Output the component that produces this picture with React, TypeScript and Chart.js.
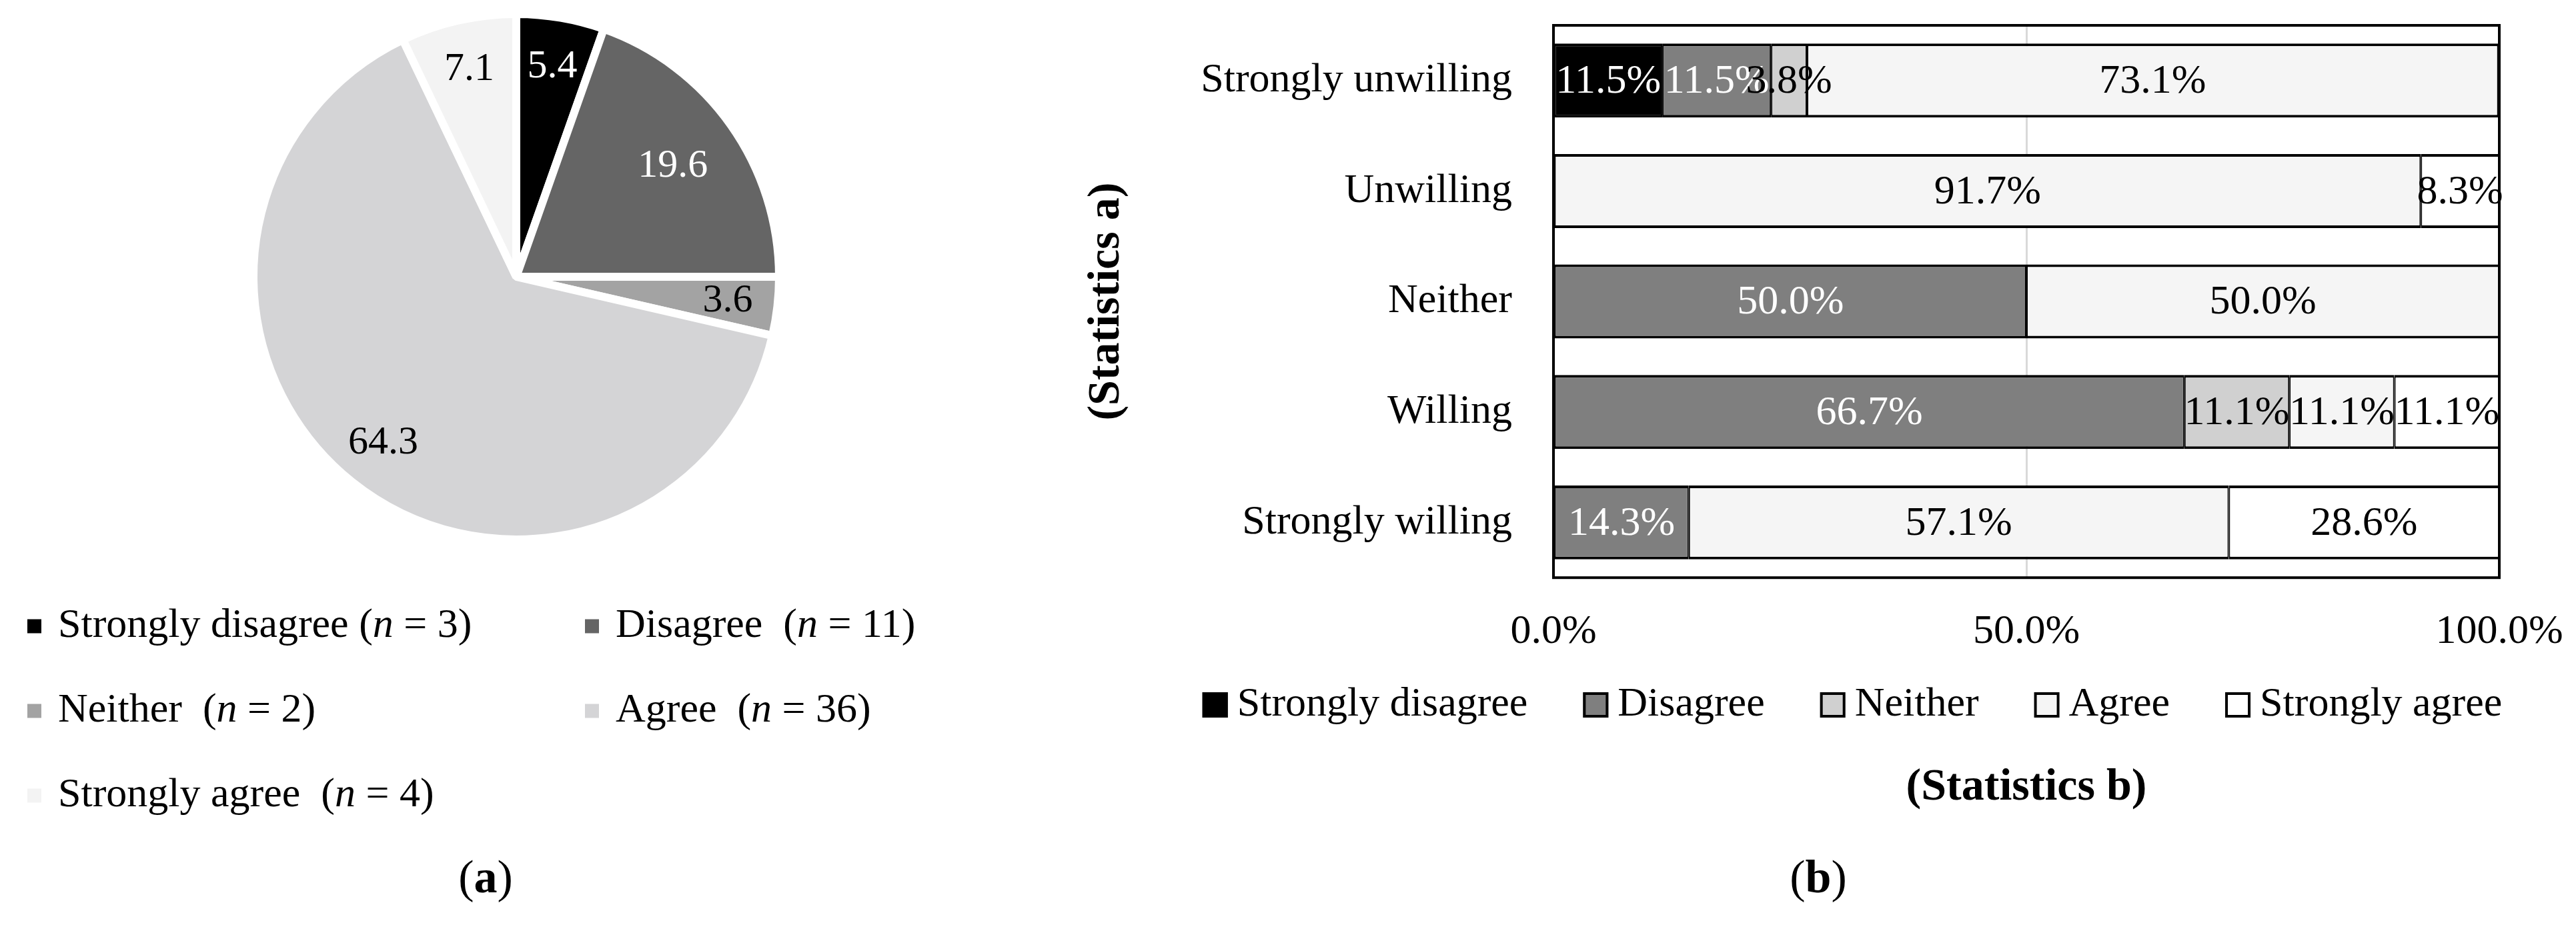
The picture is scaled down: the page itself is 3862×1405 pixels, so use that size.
import React, { useEffect, useRef } from "react";
import { Chart, registerables } from "chart.js";

Chart.register(...registerables);

// ---------- Data: pie (a) ----------
const pieLabels = ["Strongly disagree", "Disagree", "Neither", "Agree", "Strongly agree"];
const pieCounts = [3, 11, 2, 36, 4];
const piePercents = [5.4, 19.6, 3.6, 64.3, 7.1];

// ---------- Data: stacked bars (b) ----------
const barCategories = ["Strongly unwilling", "Unwilling", "Neither", "Willing", "Strongly willing"];
const barSeriesNames = ["Strongly disagree", "Disagree", "Neither", "Agree", "Strongly agree"];
const stronglyDisagree = [11.5, 0, 0, 0, 0];
const disagree = [11.5, 0, 50.0, 66.7, 14.3];
const neither = [3.8, 0, 0, 11.1, 0];
const agree = [73.1, 91.7, 50.0, 11.1, 57.1];
const stronglyAgree = [0, 8.3, 0, 11.1, 28.6];
const xTickValues = [0, 50, 100];

// ---------- Styles ----------
const FONT = '"Liberation Serif", "Times New Roman", serif';
const TXT = 62;
const pieColors = ["#000000", "#656565", "#a3a3a3", "#d4d4d6", "#f3f3f3"];
const pieLabelColors = ["#ffffff", "#ffffff", "#000000", "#000000", "#000000"];
const pieLabelRadius = [0.81, 0.73, 0.81, 0.81, 0.81];
const pieLegendSpacer = [" ", "  ", "  ", "  ", "  "];
const barColors = ["#000000", "#7f7f7f", "#d0d0d0", "#f5f5f5", "#ffffff"];
const barLabelColors = ["#ffffff", "#ffffff", "#000000", "#000000", "#000000"];

function font(size: number, weight = "normal", style = "normal") {
  return `${style} ${weight} ${size}px ${FONT}`;
}

function drawRuns(ctx: CanvasRenderingContext2D, runs: { t: string; f: string }[], x: number, y: number, align: "left" | "center") {
  let total = 0;
  const widths = runs.map((r) => {
    ctx.font = r.f;
    const w = ctx.measureText(r.t).width;
    total += w;
    return w;
  });
  let cx = align === "center" ? x - total / 2 : x;
  runs.forEach((r, i) => {
    ctx.font = r.f;
    ctx.fillText(r.t, cx, y);
    cx += widths[i];
  });
}

const pieLabelPlugin = {
  id: "pieLabels",
  afterDatasetsDraw(chart: any) {
    const { ctx } = chart;
    const meta = chart.getDatasetMeta(0);
    ctx.save();
    ctx.textAlign = "center";
    ctx.textBaseline = "middle";
    ctx.font = font(60);
    meta.data.forEach((arc: any, i: number) => {
      const p = arc.getProps(["x", "y", "startAngle", "endAngle", "outerRadius"], true);
      const mid = (p.startAngle + p.endAngle) / 2;
      const r = p.outerRadius * pieLabelRadius[i];
      ctx.fillStyle = pieLabelColors[i];
      ctx.fillText(piePercents[i].toFixed(1), p.x + Math.cos(mid) * r, p.y + Math.sin(mid) * r);
    });
    ctx.restore();
  },
};

const pieLegendPlugin = {
  id: "pieLegend",
  afterDraw(chart: any) {
    const { ctx } = chart;
    const cols = [41, 877];
    const rows = [939, 1066, 1193];
    const box = 21;
    ctx.save();
    ctx.textBaseline = "middle";
    ctx.fillStyle = "#000";
    pieLabels.forEach((lab, i) => {
      const x = cols[i % 2];
      const y = rows[Math.floor(i / 2)];
      ctx.fillStyle = pieColors[i];
      ctx.fillRect(x, y - box / 2, box, box);
      ctx.fillStyle = "#000";
      drawRuns(
        ctx,
        [
          { t: `${lab}${pieLegendSpacer[i]}(`, f: font(TXT) },
          { t: "n", f: font(TXT, "normal", "italic") },
          { t: ` = ${pieCounts[i]})`, f: font(TXT) },
        ],
        x + 46,
        y,
        "left"
      );
    });
    // caption (a)
    drawRuns(
      ctx,
      [
        { t: "(", f: font(70) },
        { t: "a", f: font(70, "bold") },
        { t: ")", f: font(70) },
      ],
      728,
      1320,
      "center"
    );
    ctx.restore();
  },
};

const barLabelPlugin = {
  id: "barLabels",
  afterDatasetsDraw(chart: any) {
    const { ctx } = chart;
    ctx.save();
    ctx.textAlign = "center";
    ctx.textBaseline = "middle";
    ctx.font = font(TXT);
    chart.data.datasets.forEach((ds: any, di: number) => {
      const meta = chart.getDatasetMeta(di);
      meta.data.forEach((el: any, i: number) => {
        const v = ds.data[i];
        if (v === null || v === undefined || v === 0) return;
        const c = el.getCenterPoint();
        ctx.fillStyle = barLabelColors[di];
        ctx.fillText(`${Number(v).toFixed(1)}%`, c.x, c.y + 2);
      });
    });
    ctx.restore();
  },
};

const framePlugin = {
  id: "frame",
  afterDatasetsDraw(chart: any) {
    const { ctx, chartArea } = chart;
    ctx.save();
    ctx.strokeStyle = "#000";
    ctx.lineWidth = 4;
    ctx.strokeRect(chartArea.left, chartArea.top, chartArea.right - chartArea.left, chartArea.bottom - chartArea.top);
    ctx.restore();
  },
};

const barLegendPlugin = {
  id: "barLegend",
  afterDraw(chart: any) {
    const { ctx } = chart;
    const centerX = 1277;
    const y = 1057;
    const box = 38;
    const boxGap = 14;
    const itemGap = 83;
    ctx.save();
    ctx.font = font(TXT);
    ctx.textBaseline = "middle";
    const widths = barSeriesNames.map((n) => ctx.measureText(n).width);
    const total = widths.reduce((a, w) => a + box + boxGap + w, 0) + itemGap * (barSeriesNames.length - 1);
    let x = centerX - total / 2;
    barSeriesNames.forEach((n, i) => {
      ctx.fillStyle = barColors[i];
      ctx.fillRect(x, y - box / 2, box, box);
      ctx.strokeStyle = "#000";
      ctx.lineWidth = 4;
      ctx.strokeRect(x + 2, y - box / 2 + 2, box - 4, box - 4);
      ctx.fillStyle = "#000";
      ctx.fillText(n, x + box + boxGap, y);
      x += box + boxGap + widths[i] + itemGap;
    });
    // caption (b)
    drawRuns(
      ctx,
      [
        { t: "(", f: font(70) },
        { t: "b", f: font(70, "bold") },
        { t: ")", f: font(70) },
      ],
      1226,
      1320,
      "center"
    );
    ctx.restore();
  },
};

export default function App() {
  const pieRef = useRef<HTMLCanvasElement>(null);
  const barRef = useRef<HTMLCanvasElement>(null);

  useEffect(() => {
    Chart.defaults.font.family = FONT;
    Chart.defaults.color = "#000";

    const pie = new Chart(pieRef.current as HTMLCanvasElement, {
      type: "pie",
      data: {
        labels: pieLabels,
        datasets: [
          {
            data: piePercents,
            backgroundColor: pieColors,
            borderColor: "#ffffff",
            borderWidth: 12,
            radius: 394,
          } as any,
        ],
      },
      options: {
        animation: false,
        responsive: true,
        maintainAspectRatio: false,
        events: [],
        layout: { padding: { left: 374, right: 326, top: 15, bottom: 590 } },
        plugins: { legend: { display: false }, tooltip: { enabled: false } },
      },
      plugins: [pieLabelPlugin, pieLegendPlugin],
    });

    const seriesData = [stronglyDisagree, disagree, neither, agree, stronglyAgree];
    const bar = new Chart(barRef.current as HTMLCanvasElement, {
      type: "bar",
      data: {
        labels: barCategories,
        datasets: barSeriesNames.map((name, i) => ({
          label: name,
          data: seriesData[i].map((v) => (v === 0 ? null : v)),
          backgroundColor: barColors[i],
          borderColor: "#000000",
          borderWidth: { top: 4, bottom: 4, left: 2, right: 2 },
          borderSkipped: false,
          barPercentage: 0.67,
          categoryPercentage: 1,
        })) as any,
      },
      options: {
        indexAxis: "y",
        animation: false,
        responsive: true,
        maintainAspectRatio: false,
        events: [],
        layout: { padding: { left: 118.4, right: 115, top: 38, bottom: 182.8 } },
        plugins: { legend: { display: false }, tooltip: { enabled: false } },
        scales: {
          x: {
            type: "linear",
            stacked: true,
            min: 0,
            max: 100,
            afterBuildTicks: (scale: any) => {
              scale.ticks = xTickValues.map((v) => ({ value: v }));
            },
            ticks: {
              padding: 44,
              color: "#000",
              font: { size: TXT },
              maxRotation: 0,
              callback: (v: any) => `${Number(v).toFixed(1)}%`,
            },
            grid: {
              drawTicks: false,
              lineWidth: 3,
              color: (c: any) => (c.tick && c.tick.value === 50 ? "#d9d9d9" : "rgba(0,0,0,0)"),
            },
            border: { display: false },
            title: {
              display: true,
              text: "(Statistics b)",
              color: "#000",
              font: { size: 68, weight: "bold" },
              padding: { top: 0, bottom: 0 },
            },
            afterFit: (s: any) => {
              s.height = 356;
              s.paddingLeft = 0;
              s.paddingRight = 0;
            },
          },
          y: {
            stacked: true,
            ticks: { padding: 62, color: "#000", font: { size: TXT }, autoSkip: false },
            grid: { display: false, drawTicks: false },
            border: { display: false },
            title: {
              display: true,
              text: "(Statistics a)",
              color: "#000",
              font: { size: 68, weight: "bold" },
              padding: { top: 0, bottom: 0 },
            },
            afterFit: (s: any) => {
              s.width = 710.6;
              s.paddingTop = 0;
              s.paddingBottom = 0;
            },
          },
        },
      } as any,
      plugins: [framePlugin, barLabelPlugin, barLegendPlugin],
    });

    return () => {
      pie.destroy();
      bar.destroy();
    };
  }, []);

  return (
    <div style={{ position: "absolute", left: 0, top: 0, width: 3862, height: 1405, background: "#fff", overflow: "hidden" }}>
      <div style={{ position: "absolute", left: 0, top: 0, width: 1500, height: 1405 }}>
        <canvas ref={pieRef} />
      </div>
      <div style={{ position: "absolute", left: 1500, top: 0, width: 2362, height: 1405 }}>
        <canvas ref={barRef} />
      </div>
    </div>
  );
}
